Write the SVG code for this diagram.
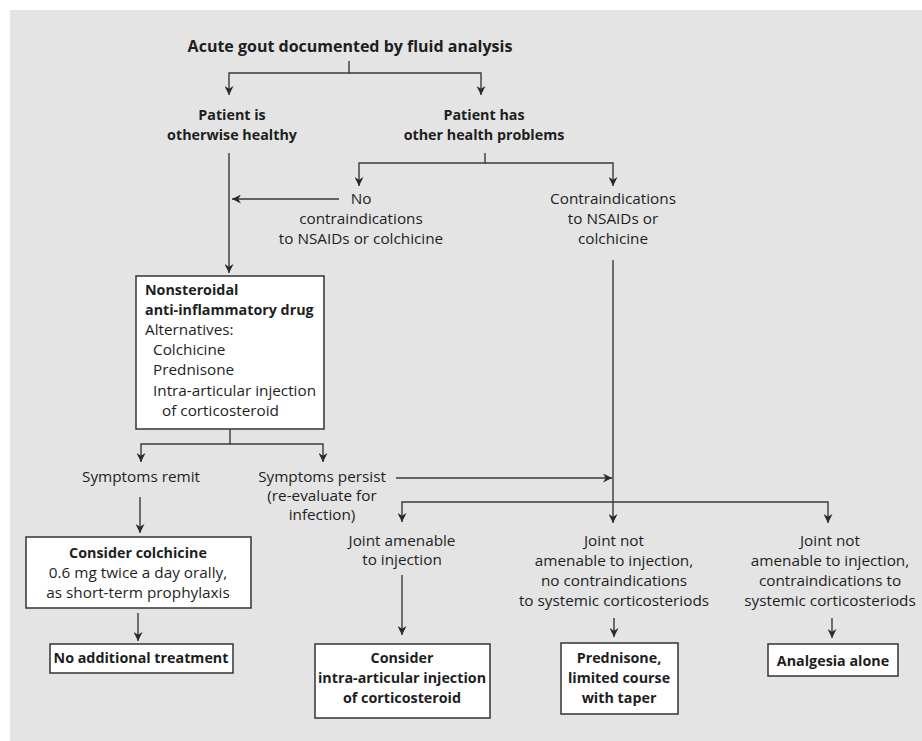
<svg xmlns="http://www.w3.org/2000/svg" width="922" height="741" viewBox="0 0 922 741">
<style>
text{font-family:"Open Sans","Noto Sans","Liberation Sans",sans-serif;font-size:15.3px;fill:#1e1e1e}
.b{font-weight:bold;font-size:14.3px}
.t{font-size:16px}
.c{text-anchor:middle}
.box{fill:#ffffff;stroke:#333;stroke-width:1.5}
.ln{fill:none;stroke:#3a3a3a;stroke-width:1.4}
.ar{marker-end:url(#ah)}
</style>
<defs>
<marker id="ah" viewBox="0 0 10 10" refX="10" refY="5" markerWidth="9" markerHeight="9" markerUnits="userSpaceOnUse" orient="auto">
<path d="M0,0 L10,5 L0,10 L3,5 z" fill="#2a2a2a"/>
</marker>
</defs>
<rect x="0" y="0" width="922" height="741" fill="#ffffff"/>
<rect x="10" y="10" width="912" height="731" fill="#e4e4e4"/>

<g id="connectors">
<path class="ln ar" d="M349,61 V73 H229 V95"/>
<path class="ln ar" d="M349,73 H481 V95"/>
<path class="ln ar" d="M485,153 V163 H359 V186"/>
<path class="ln ar" d="M485,163 H613 V186"/>
<path class="ln ar" d="M339,199 H232"/>
<path class="ln ar" d="M229,153 V273"/>
<path class="ln ar" d="M230,429 V444 H141 V462"/>
<path class="ln ar" d="M230,444 H323 V462"/>
<path class="ln ar" d="M396,478 H612"/>
<path class="ln ar" d="M613,260 V523"/>
<path class="ln ar" d="M613,502 H402 V522"/>
<path class="ln ar" d="M613,502 H828 V523"/>
<path class="ln ar" d="M402,575 V635"/>
<path class="ln ar" d="M614,618 V637"/>
<path class="ln ar" d="M832,618 V638"/>
<path class="ln ar" d="M140,497 V533"/>
<path class="ln ar" d="M138,613 V641"/>
</g>

<g id="n-title"><text class="b c t" x="350" y="52">Acute gout documented by fluid analysis</text></g>
<g id="n-healthy"><text class="b c" x="232" y="120">Patient is</text><text class="b c" x="232" y="140">otherwise healthy</text></g>
<g id="n-problems"><text class="b c" x="484" y="120">Patient has</text><text class="b c" x="484" y="140">other health problems</text></g>
<g id="n-nocontra"><text class="c" x="361" y="204">No</text><text class="c" x="361" y="224">contraindications</text><text class="c" x="361" y="244">to NSAIDs or colchicine</text></g>
<g id="n-contra"><text class="c" x="613" y="204">Contraindications</text><text class="c" x="613" y="224">to NSAIDs or</text><text class="c" x="613" y="244">colchicine</text></g>

<g id="n-nsaid">
<rect class="box" x="136" y="276" width="188" height="153"/>
<text class="b" x="145" y="295">Nonsteroidal</text>
<text class="b" x="145" y="315">anti-inflammatory drug</text>
<text x="145" y="335">Alternatives:</text>
<text x="153" y="355">Colchicine</text>
<text x="153" y="375">Prednisone</text>
<text x="153" y="396">Intra-articular injection</text>
<text x="162" y="416">of corticosteroid</text>
</g>

<g id="n-remit"><text class="c" x="141" y="482">Symptoms remit</text></g>
<g id="n-persist"><text class="c" x="322" y="482">Symptoms persist</text><text class="c" x="322" y="501">(re-evaluate for</text><text class="c" x="322" y="520">infection)</text></g>

<g id="n-colchicine">
<rect class="box" x="26" y="537" width="225" height="71"/>
<text class="b c" x="138" y="558">Consider colchicine</text>
<text class="c" x="138" y="578">0.6 mg twice a day orally,</text>
<text class="c" x="138" y="598">as short-term prophylaxis</text>
</g>
<g id="n-noadd">
<rect class="box" x="50" y="644" width="183" height="29"/>
<text class="b c" x="141" y="663">No additional treatment</text>
</g>

<g id="n-amenable"><text class="c" x="402" y="546">Joint amenable</text><text class="c" x="402" y="565">to injection</text></g>
<g id="n-notamenable1"><text class="c" x="614" y="546">Joint not</text><text class="c" x="614" y="566">amenable to injection,</text><text class="c" x="614" y="586">no contraindications</text><text class="c" x="614" y="606">to systemic corticosteriods</text></g>
<g id="n-notamenable2"><text class="c" x="830" y="546">Joint not</text><text class="c" x="830" y="566">amenable to injection,</text><text class="c" x="830" y="586">contraindications to</text><text class="c" x="830" y="606">systemic corticosteriods</text></g>

<g id="n-injection">
<rect class="box" x="315" y="644" width="175" height="74"/>
<text class="b c" x="402" y="663">Consider</text>
<text class="b c" x="402" y="683">intra-articular injection</text>
<text class="b c" x="402" y="703">of corticosteroid</text>
</g>
<g id="n-prednisone">
<rect class="box" x="561" y="643" width="117" height="71"/>
<text class="b c" x="619" y="663">Prednisone,</text>
<text class="b c" x="619" y="683">limited course</text>
<text class="b c" x="619" y="703">with taper</text>
</g>
<g id="n-analgesia">
<rect class="box" x="768" y="644" width="130" height="32"/>
<text class="b c" x="833" y="666">Analgesia alone</text>
</g>
</svg>
